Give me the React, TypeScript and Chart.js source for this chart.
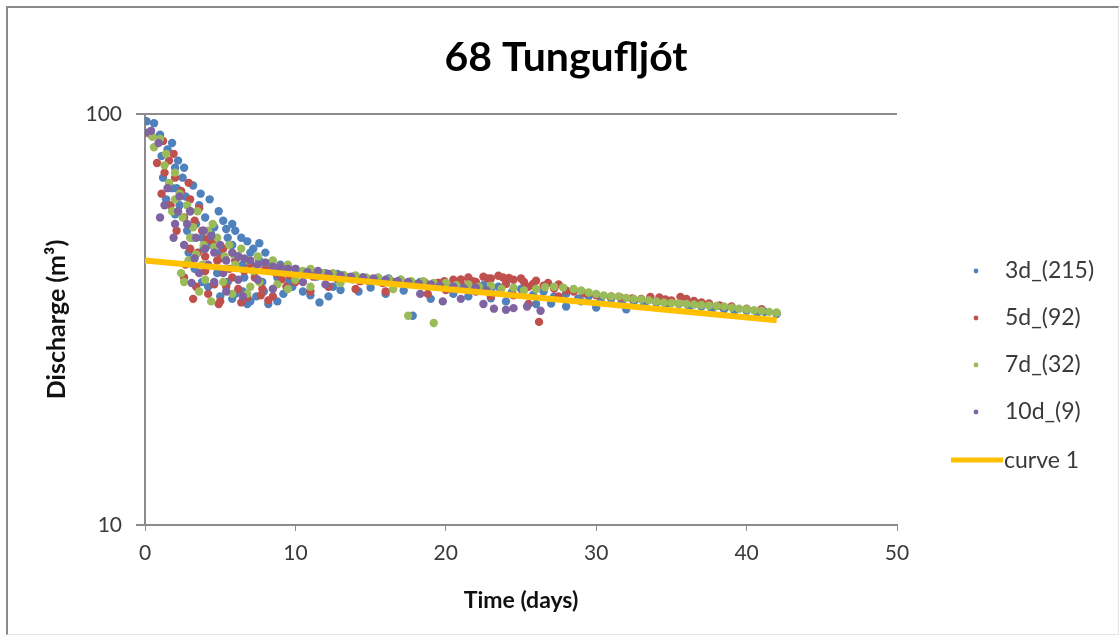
import React, { useEffect, useRef } from "react";
import { Chart, registerables } from "chart.js";

Chart.register(...registerables);

const TITLE = "68 Tungufljót";
const X_TITLE = "Time (days)";
const Y_TITLE = "Discharge (m³)";
const X_TICKS = [0, 10, 20, 30, 40, 50];
const Y_TICKS = [10, 100];

const SERIES_LABELS = ["3d_(215)", "5d_(92)", "7d_(32)", "10d_(9)", "curve 1"];

const blue3d: [number, number][] = [
  [0.1, 96], [0.6, 95], [0.3, 90], [1.0, 89], [1.5, 82], [2.2, 77], [2.0, 74], [1.2, 70], [2.5, 70],
  [1.8, 66], [3.2, 67], [2.7, 63], [1.4, 62], [2.3, 60], [3.0, 58], [3.6, 60], [2.0, 57], [4.0, 56],
  [5.2, 55], [3.4, 54], [4.6, 53], [6.0, 52], [2.8, 52], [3.8, 50], [5.5, 50], [6.8, 49], [4.4, 48],
  [7.2, 47], [5.0, 46], [8.0, 46], [6.2, 45], [3.0, 44], [7.6, 44], [9.0, 43], [8.6, 42], [10.0, 42],
  [11.0, 41.5], [12.0, 41], [13.2, 40.5], [14.5, 40], [15.5, 39.8], [17.0, 39.5], [18.3, 39],
  [19.5, 38.8], [21.0, 38.5], [22.5, 38.3], [23.5, 38], [25.0, 37.5], [26.5, 37], [28.0, 36.5],
  [29.5, 36], [31, 35.5], [32.5, 35], [34, 34.8], [35.5, 34.5], [37, 34], [38.5, 33.5], [40, 33.2],
  [41.2, 33], [42, 32.6], [4.2, 38], [5.0, 36], [5.8, 35.5], [6.5, 37], [7.4, 36], [8.2, 34.5],
  [9.2, 36.5], [10.5, 37], [11.6, 34.8], [12.5, 38], [3.8, 39], [6.8, 34.5], [16, 36.5], [19, 35.5],
  [21.5, 36], [24, 35], [26, 34.5], [28, 34], [30, 33.8], [32, 33.5], [9.8, 38], [17.8, 32.3],
  [8.4, 43.5], [9.4, 42.2], [10.8, 41], [11.4, 40.2], [12.8, 40.8], [13.8, 39.6], [14.9, 39.2],
  [16.2, 39.8], [17.5, 38.6], [18.9, 38.2], [20.2, 37.9], [21.8, 37.6], [23, 37.2], [24.4, 36.9],
  [25.8, 36.3], [27.2, 36], [28.8, 35.6], [30.3, 35], [31.7, 34.8], [33.2, 34.4], [34.7, 34],
  [36.2, 33.8], [37.7, 33.5], [39.2, 33.2], [40.7, 32.8], [6.6, 40], [7.8, 39], [8.8, 40], [5.5, 39],
  [4.8, 41], [3.3, 42], [2.9, 46], [4.9, 58], [3.7, 64], [2.6, 74], [1.8, 85], [1.1, 79], [5.8, 48],
  [7.0, 46], [6.5, 43], [9.6, 39.2], [13, 37.3], [15, 37.8], [11, 36.2], [8.8, 35], [7.0, 35],
  [20.5, 36.5], [23, 35.6], [27, 34.6], [29, 35],
  [4.4, 51], [5.8, 54], [6.4, 50], [7.6, 48.5], [3.9, 47], [6.0, 36.5], [7.9, 37], [12.2, 36],
  [14.2, 37], [17.2, 37.2], [2.1, 66], [4.3, 62], [5.4, 52.5], [3.1, 50],
];

const red5d: [number, number][] = [
  [0.4, 89], [1.2, 86], [0.8, 76], [1.6, 77], [1.3, 72], [2.0, 70], [1.1, 64], [2.4, 65], [1.7, 60],
  [3.0, 62], [2.6, 56], [3.3, 55], [2.1, 52], [3.8, 52], [4.5, 49], [3.0, 47], [5.2, 47], [4.0, 45],
  [6.0, 44], [5.6, 42], [7.0, 43], [8.0, 42], [9.0, 41.5], [10.5, 41], [12, 40.5], [13.5, 40],
  [15, 39.5], [16.5, 39], [18, 38.5], [19.5, 38.8], [20.5, 39.5], [21.5, 40], [22.5, 40.2], [23, 39.8],
  [23.8, 40], [24.5, 39.5], [25.2, 39], [26, 39.3], [26.8, 38.8], [27.5, 38.5], [22, 39], [24, 38.6],
  [25.5, 38], [33, 35.5], [34.2, 35.8], [35.0, 35.2], [36.0, 35.5], [37.0, 34.8], [28.5, 37], [31, 36],
  [39, 34], [41, 33.5], [2.6, 40], [3.4, 38], [4.2, 36.5], [5.0, 35], [4.6, 38.5], [6.2, 37.5],
  [6.8, 35.8], [7.8, 37.5], [8.5, 36], [10, 39], [12.2, 38], [14.0, 37.5], [18.8, 36.5], [23, 36],
  [25.5, 34.5], [26.2, 31.2], [22, 37], [27.5, 36],
  [8.7, 41], [9.6, 40.5], [11.2, 40.2], [12.8, 39.6], [14.3, 39.2], [15.8, 38.8], [17.2, 38.6],
  [18.6, 38.9], [19.9, 39.2], [21, 39.6], [21.8, 39.2], [22.8, 39.8], [23.5, 40.4], [24.2, 39.9],
  [25, 39.8], [25.8, 38.6], [26.5, 38.2], [27.2, 37.6], [28, 37.2], [29.2, 36.6], [30, 36.2],
  [31.6, 35.8], [32.4, 35.6], [33.6, 35.9], [34.6, 35.4], [35.6, 35.9], [36.5, 35.1], [37.5, 34.6],
  [38.2, 34.2], [40, 33.6], [3.6, 59], [2.9, 68], [1.9, 80], [4.8, 44], [5.8, 40], [7.3, 40],
  [9.4, 38], [11, 37], [4, 41.5], [5.4, 38], [6.4, 34.8], [3.2, 35.5], [8.2, 35.2], [4.9, 34.5],
  [16, 37], [20, 37.3], [24.5, 36.2], [21.3, 38.2],
  [4.1, 49.5], [5.0, 44.5], [6.6, 41.5], [3.5, 46], [2.7, 43], [7.7, 36.2], [9.1, 39.6],
];

const green7d: [number, number][] = [
  [0.5, 88], [1.0, 87], [0.6, 83], [1.3, 75], [2.0, 72], [1.6, 68], [2.3, 64], [2.8, 60], [3.5, 58],
  [2.5, 56], [3.2, 53], [4.2, 52], [4.8, 50], [5.6, 48], [6.4, 47], [3.9, 48], [7.5, 45], [8.5, 44],
  [9.5, 43], [11, 42], [12.5, 41], [14, 40.5], [15.5, 40], [17, 39.5], [18.5, 39.2], [20, 38.8],
  [21.5, 38.5], [23, 38.2], [24.5, 37.8], [26, 37.5], [27.2, 38], [28.5, 37.5], [29.5, 36.8],
  [30.5, 36.2], [31.5, 36], [32.5, 35.5], [33.5, 35.2], [34.5, 34.8], [35.5, 34.6], [36.5, 34.4],
  [37.5, 34.2], [38.5, 34], [39.5, 33.6], [40.5, 33.3], [41.5, 33], [2.4, 41], [2.6, 39], [3.6, 37],
  [4.4, 35], [5.8, 36.5], [7.0, 38], [8.8, 38.5], [11, 38], [19.2, 31], [17.5, 32.3], [10, 39.5],
  [8, 43.5], [9, 42.5], [10.5, 41.5], [11.8, 41], [13.2, 40.6], [14.7, 40], [16.2, 39.6], [17.7, 39.2],
  [19.2, 38.8], [20.7, 38.3], [22.2, 38], [23.7, 37.6], [25.2, 37.2], [26.6, 37.9], [27.8, 37.8],
  [29, 37.2], [30, 36.5], [31, 36], [32, 35.7], [33, 35.4], [34, 35], [35, 34.7], [36, 34.5],
  [37, 34.3], [38, 34.1], [39, 33.8], [40, 33.5], [41, 33.2], [42, 32.9], [3, 50], [4.5, 54],
  [5.3, 45], [6, 43], [7.2, 41.5], [2, 62], [1.4, 80], [3.8, 43], [6.8, 36.5], [5.2, 39], [9.5, 37.5],
  [13, 38.8], [16.5, 37.5], [2.9, 44],
  [3.4, 45.5], [4.6, 47.5], [5.9, 45.5], [6.9, 44], [1.8, 58], [4.0, 39.5], [7.6, 39],
];

const purple10d: [number, number][] = [
  [0.0, 90], [0.4, 91], [0.9, 85], [1.0, 56], [1.9, 50], [1.5, 66], [2.2, 58], [2.8, 54], [3.4, 50],
  [4.0, 47], [4.6, 46], [2.6, 48], [5.4, 44], [6.2, 45], [7.0, 44], [8.0, 43.5], [9.0, 42.5], [10, 42],
  [11.5, 41.5], [13, 40.5], [14.5, 40], [16, 39.5], [17.5, 39], [19, 38.5], [20.5, 38], [22, 37.8],
  [3.6, 41], [4.6, 39], [5.4, 37], [6.5, 36], [12, 38.5], [21, 35.5], [23.2, 33.6], [24.5, 33.7],
  [26.3, 33.2], [19.8, 35], [8.5, 37.5],
  [7.5, 43], [8.5, 42.5], [9.5, 42], [10.8, 41.2], [12.2, 40.8], [13.7, 40.2], [15.2, 39.8],
  [16.8, 39.2], [18.2, 38.7], [19.6, 38.2], [21.2, 37.7], [22.7, 37.2], [3, 58], [3.9, 52], [5, 48],
  [5.8, 46], [6.6, 44.5], [2.3, 63], [1.3, 60], [4.2, 43], [7.5, 39.5], [10.5, 39], [18.3, 36.5],
  [22.5, 34.5], [24, 33.4], [25.4, 34], [3.1, 38.8],
  [3.3, 44.5], [4.4, 50.5], [2.0, 54], [5.2, 41], [6.2, 39.5],
];

const curveX = [0, 42];
const curveY = [44, 31.5];

const COLORS = ["#4F81BD", "#C0504D", "#9BBB59", "#8064A2", "#FFC000"];
const TEXT_COLOR = "#3a3a3a";
const FONT = "Lato, 'Open Sans', sans-serif";

const toPts = (arr: [number, number][]) => arr.map(([x, y]) => ({ x, y }));

const overlayPlugin = {
  id: "overlay",
  afterDraw(chart: any) {
    const ctx = chart.ctx;
    ctx.save();
    ctx.font = `bold 41px ${FONT}`;
    ctx.fillStyle = "#000";
    ctx.textAlign = "center";
    ctx.textBaseline = "middle";
    ctx.fillText(TITLE, 566, 58);
    ctx.font = `23px ${FONT}`;
    ctx.textAlign = "left";
    const rows = [271, 318, 365, 412];
    for (let i = 0; i < 4; i++) {
      ctx.beginPath();
      ctx.fillStyle = COLORS[i];
      ctx.arc(976, rows[i], 2.4, 0, Math.PI * 2);
      ctx.fill();
      ctx.fillStyle = TEXT_COLOR;
      ctx.fillText(SERIES_LABELS[i], 1005, rows[i]);
    }
    ctx.strokeStyle = COLORS[4];
    ctx.lineWidth = 5;
    ctx.beginPath();
    ctx.moveTo(951, 460);
    ctx.lineTo(1003, 460);
    ctx.stroke();
    ctx.fillStyle = TEXT_COLOR;
    ctx.fillText(SERIES_LABELS[4], 1004, 461);
    ctx.restore();
  },
};

export default function App() {
  const ref = useRef<HTMLCanvasElement>(null);
  useEffect(() => {
    if (!ref.current) return;
    const mk = (i: number, data: [number, number][], order: number) => ({
      type: "scatter" as const,
      label: SERIES_LABELS[i],
      data: toPts(data),
      backgroundColor: COLORS[i],
      borderColor: COLORS[i],
      borderWidth: 0,
      pointRadius: 4.2,
      pointHoverRadius: 4.2,
      order,
    });
    const chart = new Chart(ref.current, {
      type: "scatter",
      data: {
        datasets: [
          mk(0, blue3d, 5),
          mk(1, red5d, 4),
          mk(2, green7d, 3),
          mk(3, purple10d, 2),
          {
            type: "line",
            label: SERIES_LABELS[4],
            data: curveX.map((x, i) => ({ x, y: curveY[i] })),
            borderColor: COLORS[4],
            backgroundColor: COLORS[4],
            borderWidth: 6,
            pointRadius: 0,
            showLine: true,
            fill: false,
            order: 1,
          } as any,
        ],
      },
      options: {
        animation: false,
        responsive: false,
        maintainAspectRatio: false,
        layout: { padding: { left: 42, right: 223, top: 114, bottom: 28 } },
        plugins: {
          legend: { display: false },
          tooltip: { enabled: false },
          title: { display: false },
        },
        scales: {
          x: {
            type: "linear",
            min: 0,
            max: 50,
            afterBuildTicks: (s: any) => {
              s.ticks = X_TICKS.map((v) => ({ value: v }));
            },
            afterFit: (s: any) => {
              s.height = 89;
            },
            ticks: {
              color: TEXT_COLOR,
              font: { family: FONT, size: 21 },
              padding: 10,
              maxRotation: 0,
            },
            grid: {
              drawOnChartArea: false,
              drawTicks: true,
              tickLength: 6,
              color: "#8c8c8c",
              lineWidth: 1,
            },
            border: { display: true, color: "#8c8c8c", width: 2 },
            title: {
              display: true,
              text: X_TITLE,
              color: "#111",
              font: { family: FONT, size: 23, weight: "bold" },
              padding: 0,
            },
          },
          y: {
            type: "logarithmic",
            min: 10,
            max: 100,
            afterBuildTicks: (s: any) => {
              s.ticks = Y_TICKS.map((v) => ({ value: v, major: true }));
            },
            afterFit: (s: any) => {
              s.width = 103;
            },
            ticks: {
              color: TEXT_COLOR,
              font: { family: FONT, size: 21 },
              padding: 14,
              callback: (v: any) => String(v),
            },
            grid: {
              drawOnChartArea: true,
              drawTicks: true,
              tickLength: 9,
              color: "#8c8c8c",
              lineWidth: 2,
            },
            border: { display: true, color: "#8c8c8c", width: 2 },
            title: {
              display: true,
              text: Y_TITLE,
              color: "#111",
              font: { family: FONT, size: 25, weight: "bold" },
              padding: 0,
            },
          },
        },
      },
      plugins: [overlayPlugin],
    } as any);
    return () => chart.destroy();
  }, []);

  return (
    <div style={{ position: "absolute", left: 0, top: 0, width: 1120, height: 642, background: "#fff" }}>
      <div
        style={{
          position: "absolute",
          left: 6,
          top: 6,
          width: 1110,
          height: 626,
          borderLeft: "2px solid #8a8a8a",
          borderTop: "2px solid #8a8a8a",
          borderRight: "1px solid #e4e4e4",
          borderBottom: "1px solid #e4e4e4",
        }}
      />
      <canvas ref={ref} width={1120} height={642} style={{ position: "absolute", left: 0, top: 0 }} />
    </div>
  );
}
